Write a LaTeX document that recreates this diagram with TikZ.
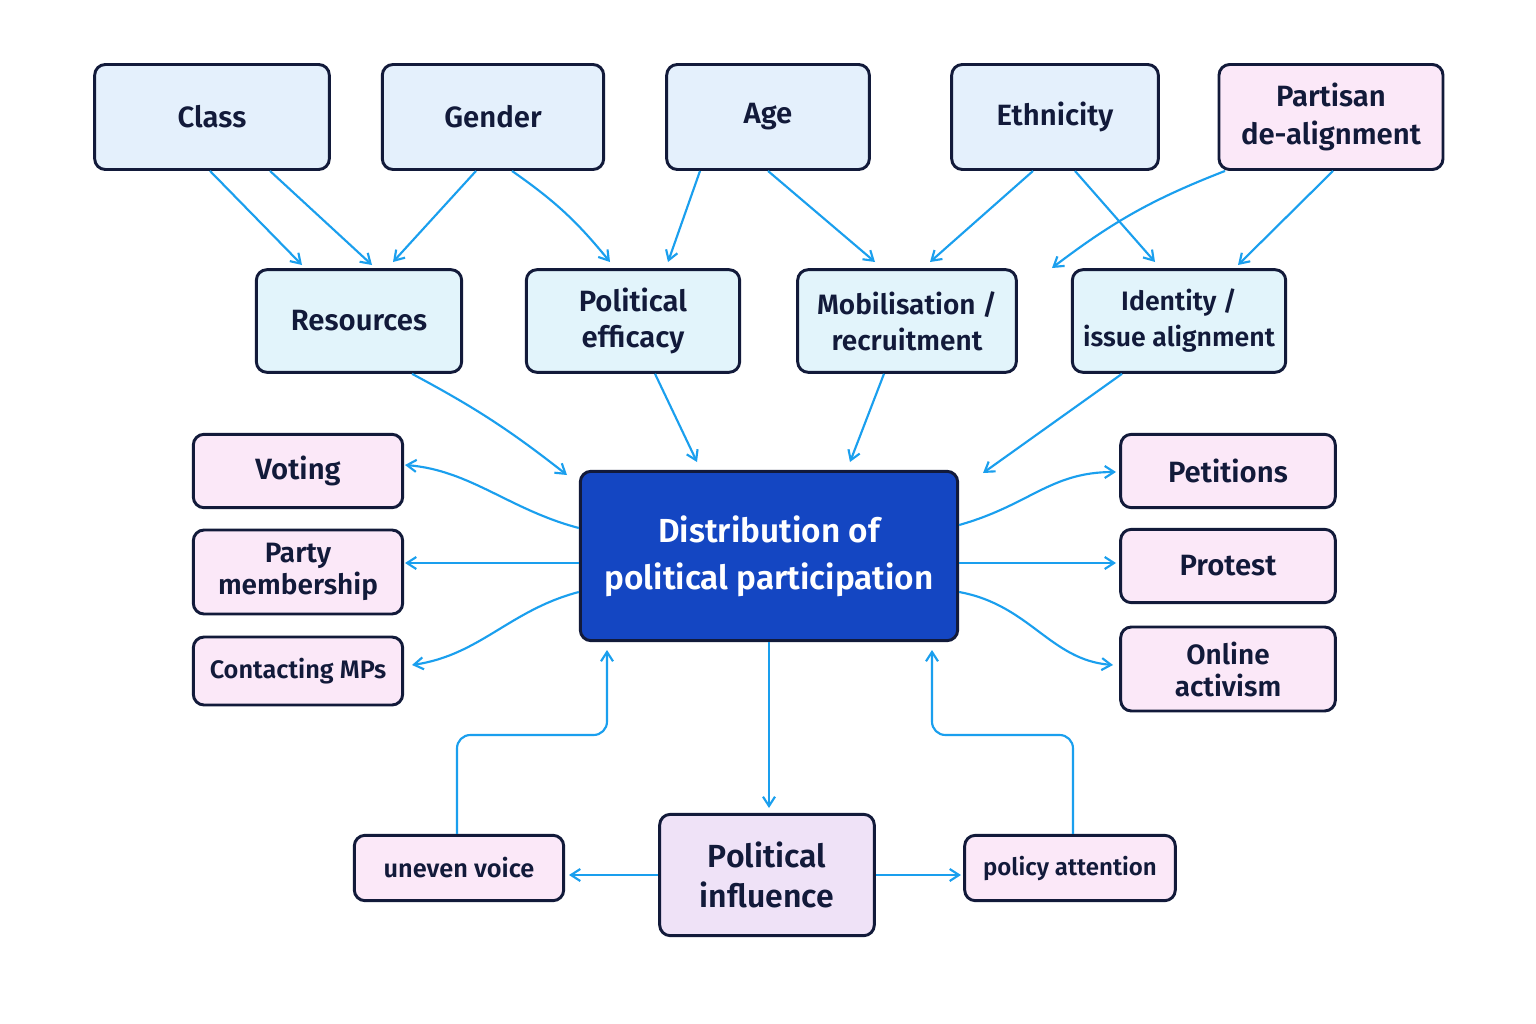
\documentclass[tikz,border=0pt]{standalone}
\usepackage{fontspec}
\setmainfont{Fira Sans}[UprightFont=* Medium,BoldFont=* SemiBold]
\usetikzlibrary{calc,arrows.meta}
\definecolor{ink}{HTML}{121A3A}
\definecolor{topf}{HTML}{E4F0FC}
\definecolor{midf}{HTML}{E2F4FB}
\definecolor{pinkf}{HTML}{FBE8F8}
\definecolor{lavf}{HTML}{EFE2F7}
\definecolor{cen}{HTML}{1446C2}
\definecolor{arrc}{HTML}{1A9FEE}
\begin{document}
\begin{tikzpicture}[x=0.75pt,y=-0.75pt,
 box/.style={draw=ink,line width=2.2pt,rounded corners=8pt,align=center,font=\fontsize{22}{25}\selectfont\bfseries,text=ink,inner sep=0pt},
 top/.style={box,fill=topf,minimum height=78.75pt},
 mid/.style={box,fill=midf,minimum height=77pt},
 pink/.style={box,fill=pinkf},
 arr/.style={draw=arrc,line width=1.6pt,-{Straight Barb[length=7pt,width=9pt]}}]
\useasboundingbox (0,0) rectangle (1536,1024);
\fill[white] (0,0) rectangle (1536,1024);
\node[top,minimum width=176pt] (class) at (212,117) {Class};
\node[top,minimum width=166pt] (gender) at (493,117) {Gender};
\node[top,minimum width=152pt] (age) at (768,117) {\vphantom{Ag}Age};
\node[top,minimum width=155pt] (eth) at (1055,117) {\vphantom{Ag}Ethnicity};
\node[pink,minimum width=168pt,minimum height=78.75pt,font=\fontsize{22}{29}\selectfont\bfseries] (part) at (1331,117) {Partisan\\de-alignment};
\node[mid,minimum width=154pt] (res) at (359,321) {Resources};
\node[mid,minimum width=160pt,font=\fontsize{22}{27}\selectfont\bfseries] (eff) at (633,321) {Political\\efficacy};
\node[mid,minimum width=164pt,font=\fontsize{21}{27}\selectfont\bfseries] (mob) at (907,321) {Mobilisation /\\recruitment};
\node[mid,minimum width=160pt,font=\fontsize{20}{27}\selectfont\bfseries] (ide) at (1179,321) {Identity /\\issue alignment};
\node[box,fill=cen,text=white,minimum width=283pt,minimum height=127pt,font=\fontsize{25}{35}\selectfont\bfseries] (c) at (769,556) {Distribution of\\political participation};
\node[pink,minimum width=157pt,minimum height=55pt] (vot) at (298,471) {Voting};
\node[pink,minimum width=157pt,minimum height=63pt,font=\fontsize{21}{24}\selectfont\bfseries] (pm) at (298,572) {Party\\membership};
\node[pink,minimum width=157pt,minimum height=51pt,font=\fontsize{19}{24}\selectfont\bfseries] (mp) at (298,671) {Contacting MPs};
\node[pink,minimum width=161pt,minimum height=55pt] (pet) at (1228,471) {Petitions};
\node[pink,minimum width=161pt,minimum height=55pt] (pro) at (1228,566) {Protest};
\node[pink,minimum width=161pt,minimum height=63pt,font=\fontsize{21}{24}\selectfont\bfseries] (onl) at (1228,669) {Online\\activism};
\node[box,fill=lavf,minimum width=161pt,minimum height=91pt,font=\fontsize{24}{30}\selectfont\bfseries] (inf) at (767,875) {Political\\influence};
\node[pink,minimum width=157pt,minimum height=49pt,font=\fontsize{19}{22}\selectfont\bfseries] (unv) at (459,868) {uneven voice};
\node[pink,minimum width=158pt,minimum height=49pt,font=\fontsize{18}{22}\selectfont\bfseries] (pol) at (1070,868) {policy attention};
% top to mid
\draw[arr] ($(class.south)+(-2,0)$) -- (302,265);
\draw[arr] ($(class.south)+(58,0)$) -- (372,265);
\draw[arr] ($(gender.south)+(-17,0)$) -- (393,262);
\draw[arr] ($(gender.south)+(19,0)$) to[bend left=8] (610,262);
\draw[arr] ($(age.south)+(-68,0)$) -- (668,262);
\draw[arr] (age.south) -- (875,262);
\draw[arr] ($(eth.south)+(-22,0)$) -- (930,262);
\draw[arr] ($(eth.south)+(20,0)$) -- (1155,262);
\draw[arr] ($(part.south)+(-106,0)$) to[bend right=8] (1052,268);
\draw[arr] ($(part.south)+(2,0)$) -- (1238,265);
% mid to center
\draw[arr] ($(res.south)+(53,0)$) to[bend left=5] (567,475);
\draw[arr] ($(eff.south)+(22,0)$) -- (697,462);
\draw[arr] ($(mob.south)+(-23,0)$) -- (850,462);
\draw[arr] ($(ide.south)+(-57,0)$) -- (983,473);
% outputs
\draw[arr] ($(c.west)+(0,-28)$) .. controls (510,510) and (470,470) .. (405,465);
\draw[arr] ($(c.west)+(0,7)$) -- (405,563);
\draw[arr] ($(c.west)+(0,36)$) .. controls (510,610) and (480,655) .. (412,665);
\draw[arr] ($(c.east)+(0,-31)$) .. controls (1030,505) and (1050,472) .. (1116,472);
\draw[arr] ($(c.east)+(0,7)$) -- (1116,563);
\draw[arr] ($(c.east)+(0,36)$) .. controls (1030,605) and (1050,660) .. (1113,665);
\draw[arr] (c.south) -- (769,808);
\draw[arr] (inf.west) -- (569,875);
\draw[arr] (inf.east) -- (961,875);
\draw[arr,rounded corners=10pt] ($(unv.north)+(-2,0)$) -- (457,735) -- (607,735) -- (607,650);
\draw[arr,rounded corners=10pt] ($(pol.north)+(3,0)$) -- (1073,735) -- (932,735) -- (932,650);
\end{tikzpicture}
\end{document}
